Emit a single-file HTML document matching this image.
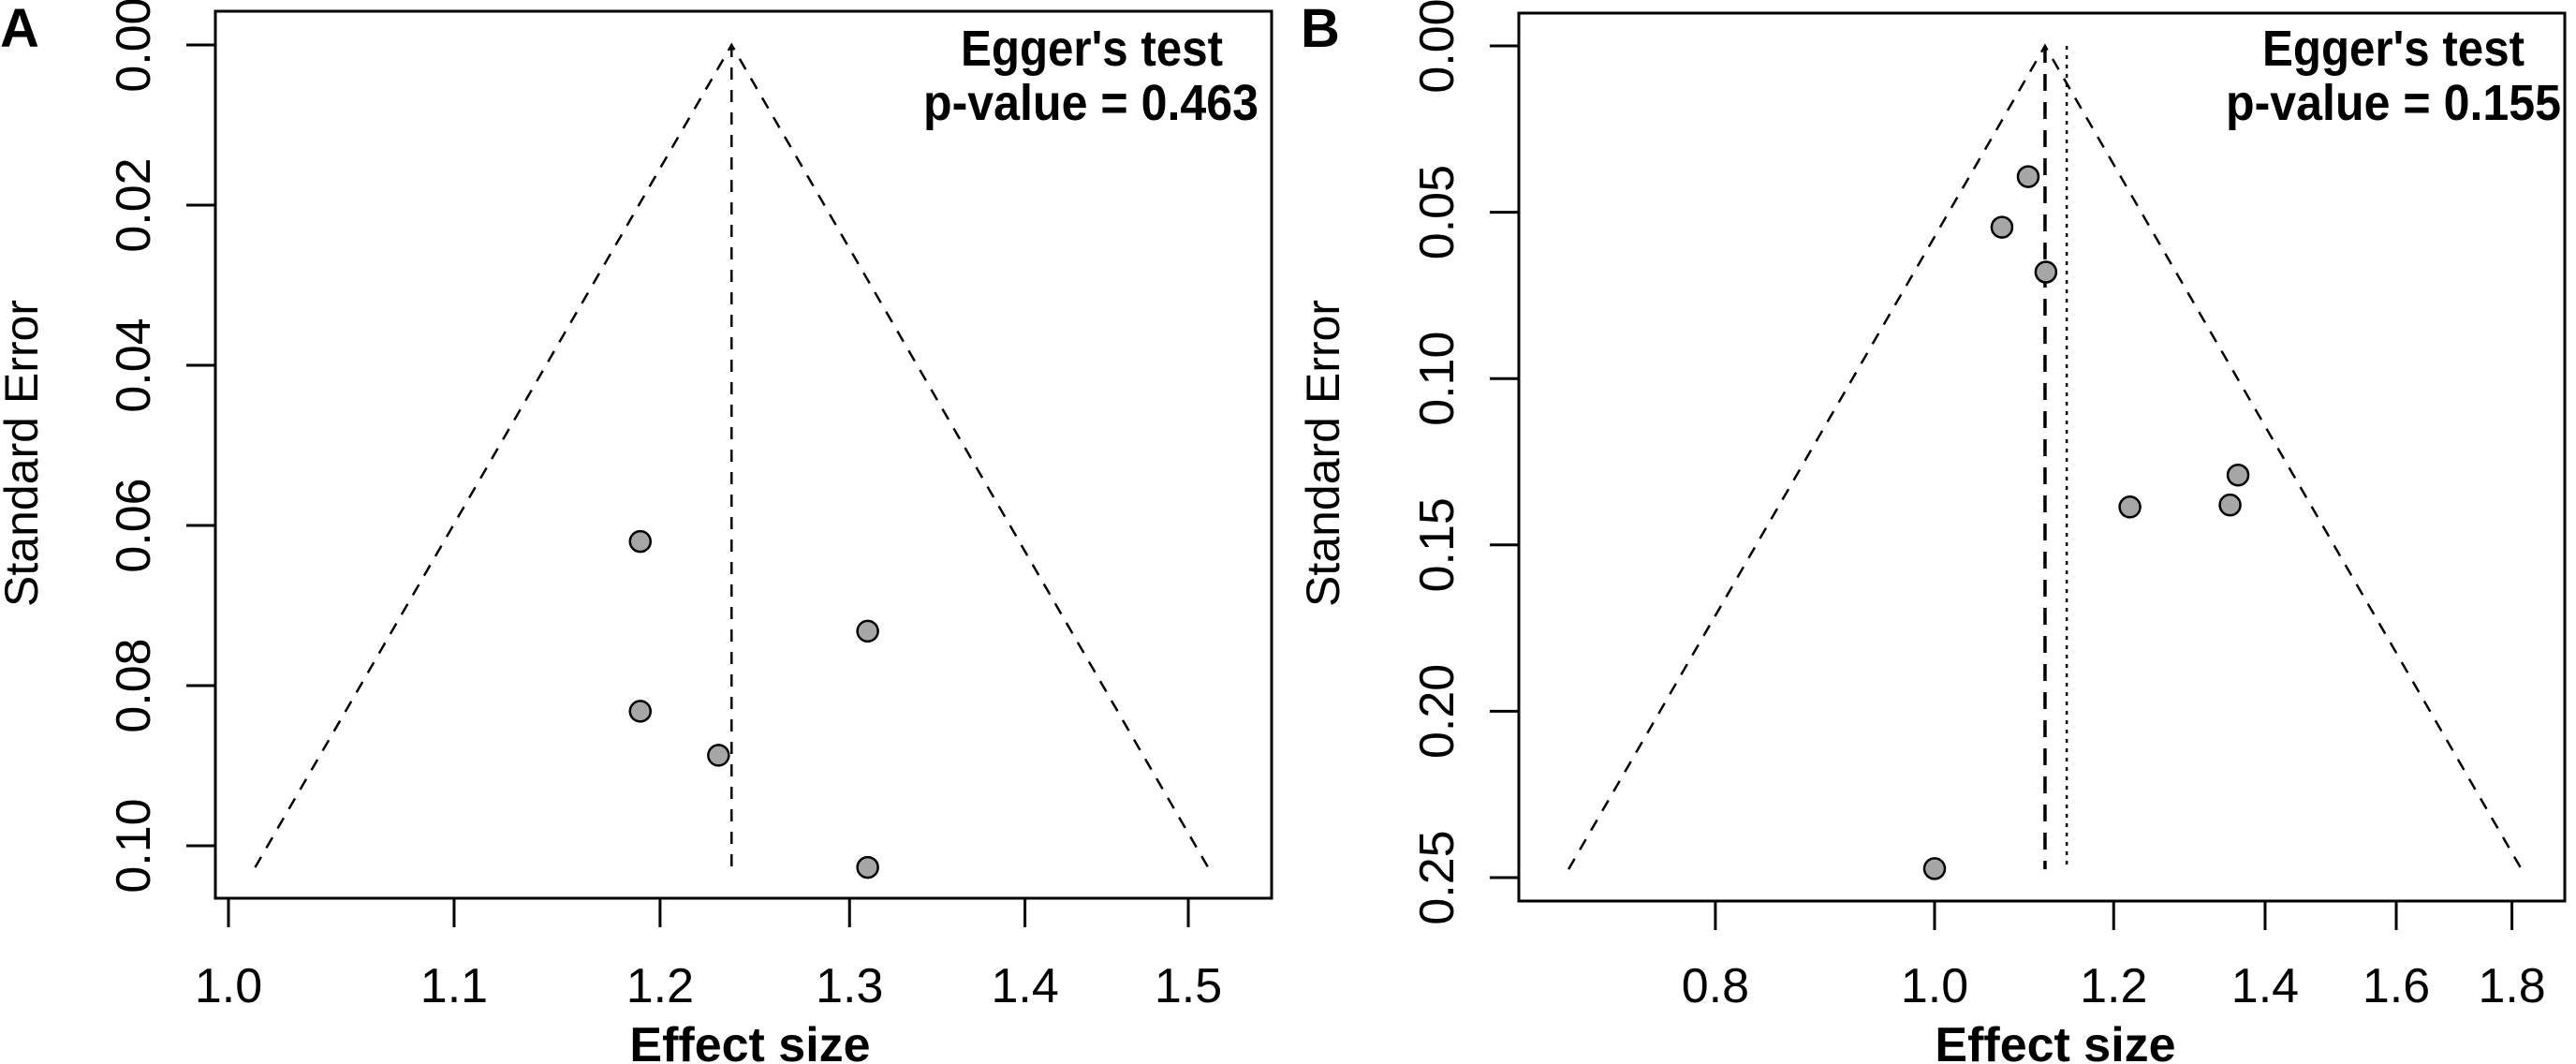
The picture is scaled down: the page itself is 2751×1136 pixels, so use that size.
<!DOCTYPE html>
<html><head><meta charset="utf-8"><style>
html,body{margin:0;padding:0;background:#fff;}
svg{display:block;font-family:"Liberation Sans",Arial,sans-serif;}
</style></head><body>
<svg id="chart" width="2751" height="1136" viewBox="0 0 2751 1136" xmlns="http://www.w3.org/2000/svg"></svg>
<script>
// Panel A data
const aEffects = [1.19, 1.31, 1.19, 1.23, 1.31];
const aSE = [0.062, 0.0732, 0.0832, 0.0887, 0.1027];
const aXTicks = [1.0, 1.1, 1.2, 1.3, 1.4, 1.5];
const aXTickLabels = ["1.0", "1.1", "1.2", "1.3", "1.4", "1.5"];
const aYTicks = [0.00, 0.02, 0.04, 0.06, 0.08, 0.10];
const aYTickLabels = ["0.00", "0.02", "0.04", "0.06", "0.08", "0.10"];
const aPooled = [1.2368];
const aMaxSE = [0.1027];
const aPValue = ["p-value = 0.463"];
// Panel B data
const bEffects = [1.10, 1.071, 1.12, 1.362, 1.351, 1.22, 1.0];
const bSE = [0.0393, 0.0545, 0.068, 0.129, 0.138, 0.1386, 0.2473];
const bXTicks = [0.8, 1.0, 1.2, 1.4, 1.6, 1.8];
const bXTickLabels = ["0.8", "1.0", "1.2", "1.4", "1.6", "1.8"];
const bYTicks = [0.00, 0.05, 0.10, 0.15, 0.20, 0.25];
const bYTickLabels = ["0.00", "0.05", "0.10", "0.15", "0.20", "0.25"];
const bPooled = [1.119];
const bAdjusted = [1.144];
const bMaxSE = [0.2475];
const bPValue = ["p-value = 0.155"];

const NS = "http://www.w3.org/2000/svg";
const svg = document.getElementById('chart');
function mk(tag, attrs, parent) {
  const e = document.createElementNS(NS, tag);
  for (const k in attrs) e.setAttribute(k, attrs[k]);
  (parent || svg).appendChild(e);
  return e;
}

function panel(cfg) {
  const g = mk('g', {});
  
  
  const xS = v => cfg.x0 + (Math.log(v) - Math.log(cfg.xRef)) * cfg.pxPerLog;
  const yS = v => cfg.y0 + v * cfg.pxPerSE;

  const L = mk('text', {x: cfg.letterX, y: 50, 'font-size': 58, 'font-weight': 'bold'}, g);
  L.textContent = cfg.id.toUpperCase();
  
  

  const box = mk('rect', {x: cfg.bl, y: cfg.bt, width: cfg.br - cfg.bl, height: cfg.bb - cfg.bt, fill: 'none', stroke: '#000', 'stroke-width': 3}, g);
  
  

  cfg.xTicks.forEach((t, i) => {
    const x = xS(t);
    const tk = mk('line', {x1: x, x2: x, y1: cfg.bb, y2: cfg.bb + 31, stroke: '#000', 'stroke-width': 3}, g);
    
    
    const tl = mk('text', {x: x, y: 1070, 'font-size': 52, 'text-anchor': 'middle'}, g);
    tl.textContent = cfg.xTickLabels[i];
    
    
  });
  cfg.yTicks.forEach((t, i) => {
    const y = yS(t);
    const tk = mk('line', {x1: cfg.bl - 31, x2: cfg.bl, y1: y, y2: y, stroke: '#000', 'stroke-width': 3}, g);
    
    
    const bx = cfg.bl - 70;
    const tl = mk('text', {x: bx, y: y, 'font-size': 52, 'text-anchor': 'middle', transform: `rotate(-90 ${bx} ${y})`}, g);
    tl.textContent = cfg.yTickLabels[i];
    
    
  });
  const xt = mk('text', {x: cfg.xTitleX, y: 1133, 'font-size': 52, 'font-weight': 'bold', 'text-anchor': 'middle'}, g);
  xt.textContent = 'Effect size';
  
  
  const yx = cfg.yTitleX, yy = 484;
  const yt = mk('text', {x: yx, y: yy, 'font-size': 50, 'text-anchor': 'middle', transform: `rotate(-90 ${yx} ${yy})`}, g);
  yt.textContent = 'Standard Error';
  
  

  const c = Math.log(cfg.pooled[0]);
  const se = cfg.maxSE[0];
  const apexX = xS(cfg.pooled[0]), apexY = yS(0);
  const lx = xS(Math.exp(c - 1.96 * se)), rx = xS(Math.exp(c + 1.96 * se)), by = yS(se);
  const f = mk('polyline', {points: `${lx},${by} ${apexX},${apexY} ${rx},${by}`, fill: 'none', stroke: '#000', 'stroke-width': 2.5, 'stroke-dasharray': '13 11'}, g);
  
  
  const cl = mk('line', {x1: apexX, x2: apexX, y1: apexY, y2: by, stroke: '#000', 'stroke-width': cfg.centerW, 'stroke-dasharray': cfg.centerDash}, g);
  
  
  if (cfg.adjusted) {
    const ax = xS(cfg.adjusted[0]);
    const al = mk('line', {x1: ax, x2: ax, y1: apexY, y2: by, stroke: '#000', 'stroke-width': 2.5, 'stroke-dasharray': '4 6'}, g);
    
    
  }
  cfg.effects.forEach((e, i) => {
    const p = mk('circle', {cx: xS(e), cy: yS(cfg.se[i]), r: 11, fill: '#a6a6a6', stroke: '#000', 'stroke-width': 2.5}, g);
    
    
  });
  const e1 = mk('text', {x: cfg.eggerX, y: 70, 'font-size': 54, 'font-weight': 'bold', 'text-anchor': 'middle', textLength: 280, lengthAdjust: 'spacingAndGlyphs'}, g);
  e1.textContent = "Egger's test";
  
  
  const e2 = mk('text', {x: cfg.pX, y: 128, 'font-size': 54, 'font-weight': 'bold', 'text-anchor': 'end', textLength: 358, lengthAdjust: 'spacingAndGlyphs'}, g);
  e2.textContent = cfg.pValue[0];
  
  
}

panel({id: 'a', letterX: 0, bl: 230, br: 1358, bt: 12, bb: 959,
  x0: 244, xRef: 1.0, pxPerLog: 2528, y0: 48, pxPerSE: 8550,
  xTicks: aXTicks, xTickLabels: aXTickLabels, yTicks: aYTicks, yTickLabels: aYTickLabels,
  effects: aEffects, se: aSE, pooled: aPooled, maxSE: aMaxSE, pValue: aPValue,
  centerW: 2.5, centerDash: '13 11', xTitleX: 801, yTitleX: 40, eggerX: 1166, pX: 1344});
panel({id: 'b', letterX: 1389, bl: 1622, br: 2739, bt: 14, bb: 962,
  x0: 2066, xRef: 1.0, pxPerLog: 1049, y0: 49, pxPerSE: 3552,
  xTicks: bXTicks, xTickLabels: bXTickLabels, yTicks: bYTicks, yTickLabels: bYTickLabels,
  effects: bEffects, se: bSE, pooled: bPooled, adjusted: bAdjusted, maxSE: bMaxSE, pValue: bPValue,
  centerW: 3.5, centerDash: '18 12', xTitleX: 2195, yTitleX: 1430, eggerX: 2556, pX: 2735});
</script>
</body></html>
